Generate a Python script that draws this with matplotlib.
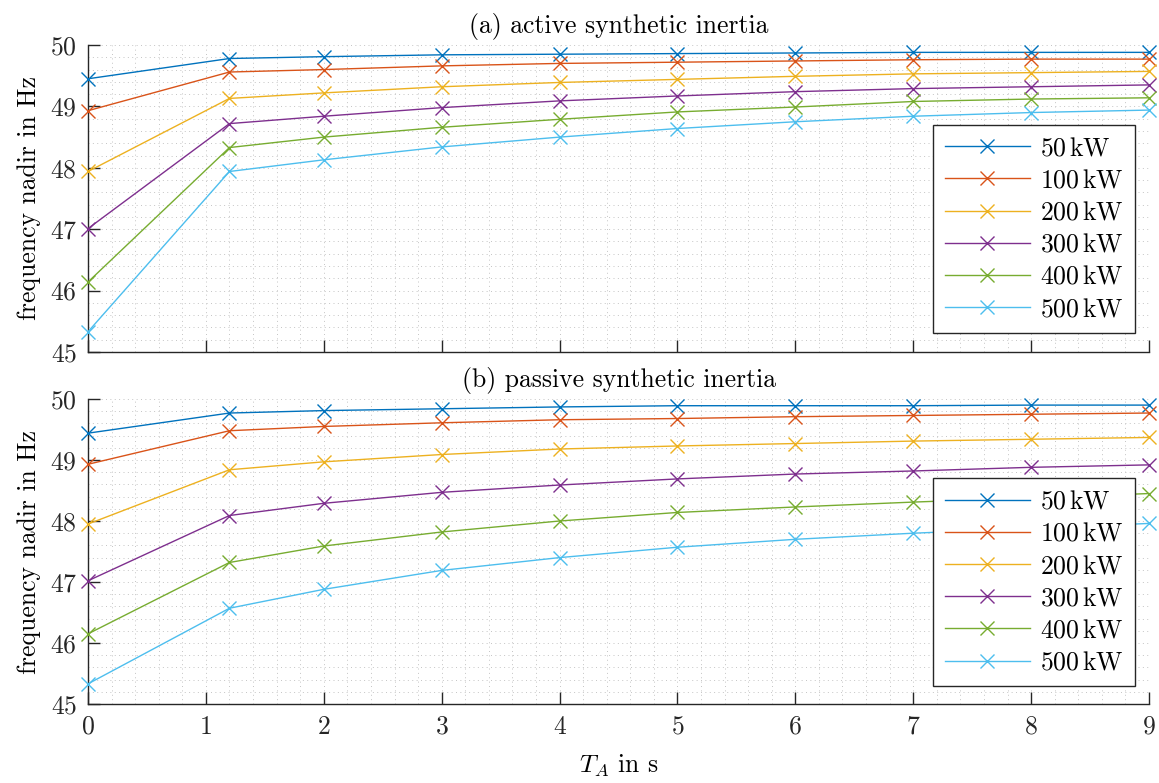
import matplotlib
matplotlib.use("Agg")
import matplotlib.pyplot as plt
from matplotlib.ticker import MultipleLocator

plt.rcParams['font.family'] = 'serif'
plt.rcParams['font.serif'] = ['cmr10', 'DejaVu Serif']
plt.rcParams['mathtext.fontset'] = 'cm'
plt.rcParams['axes.formatter.use_mathtext'] = True
plt.rcParams['axes.unicode_minus'] = False

T_A = [0, 1.2, 2, 3, 4, 5, 6, 7, 8, 9]
labels = ["50$\\,$kW", "100$\\,$kW", "200$\\,$kW", "300$\\,$kW", "400$\\,$kW", "500$\\,$kW"]
colors = ["#0072BD", "#D95319", "#EDB120", "#7E2F8E", "#77AC30", "#4DBEEE"]

active_50 = [49.45, 49.78, 49.81, 49.84, 49.85, 49.86, 49.87, 49.88, 49.88, 49.88]
active_100 = [48.93, 49.56, 49.60, 49.66, 49.70, 49.72, 49.74, 49.76, 49.77, 49.77]
active_200 = [47.94, 49.13, 49.22, 49.32, 49.39, 49.44, 49.49, 49.53, 49.55, 49.57]
active_300 = [47.01, 48.72, 48.84, 48.98, 49.09, 49.17, 49.24, 49.29, 49.32, 49.35]
active_400 = [46.14, 48.33, 48.50, 48.66, 48.79, 48.91, 48.99, 49.08, 49.12, 49.14]
active_500 = [45.33, 47.94, 48.13, 48.34, 48.50, 48.64, 48.75, 48.84, 48.90, 48.94]

passive_50 = [49.44, 49.77, 49.81, 49.84, 49.87, 49.89, 49.89, 49.89, 49.90, 49.90]
passive_100 = [48.93, 49.48, 49.55, 49.61, 49.66, 49.68, 49.71, 49.73, 49.75, 49.77]
passive_200 = [47.95, 48.84, 48.97, 49.09, 49.18, 49.23, 49.27, 49.31, 49.34, 49.37]
passive_300 = [47.02, 48.09, 48.29, 48.47, 48.59, 48.69, 48.77, 48.82, 48.88, 48.92]
passive_400 = [46.15, 47.32, 47.59, 47.82, 48.00, 48.14, 48.23, 48.31, 48.38, 48.45]
passive_500 = [45.33, 46.57, 46.88, 47.19, 47.40, 47.57, 47.70, 47.80, 47.88, 47.96]

active = [active_50, active_100, active_200, active_300, active_400, active_500]
passive = [passive_50, passive_100, passive_200, passive_300, passive_400, passive_500]
titles = ["(a) active synthetic inertia", "(b) passive synthetic inertia"]

W, H = 1159, 783
fig = plt.figure(figsize=(W / 100, H / 100), dpi=100)
left, right = 88 / W, 1149 / W
ax1 = fig.add_axes([left, 1 - 352 / H, right - left, (352 - 45) / H])
ax2 = fig.add_axes([left, 1 - 704 / H, right - left, (704 - 399) / H])

FS = 18.5
for ax, data, title in zip([ax1, ax2], [active, passive], titles):
    for series, lab, c in zip(data, labels, colors):
        ax.plot(T_A, series, color=c, marker='x', markersize=10.5, markeredgewidth=1.0,
                linewidth=1.0, label=lab, clip_on=False, zorder=3)
    ax.set_xlim(0, 9)
    ax.set_ylim(45, 50)
    ax.xaxis.set_major_locator(MultipleLocator(1))
    ax.yaxis.set_major_locator(MultipleLocator(1))
    ax.xaxis.set_minor_locator(MultipleLocator(0.2))
    ax.yaxis.set_minor_locator(MultipleLocator(0.2))
    ax.grid(which='both', color='#c4c4c4', linestyle=(0, (1, 3.5)), linewidth=0.7)
    ax.set_axisbelow(True)
    ax.tick_params(which='major', direction='in', length=8.5, width=1.0, labelsize=FS,
                   colors='#262626', labelcolor='#262626', pad=8)
    ax.tick_params(which='minor', length=0)
    for s in ['top', 'right']:
        ax.spines[s].set_visible(False)
    for s in ['left', 'bottom']:
        ax.spines[s].set_color('#262626')
        ax.spines[s].set_linewidth(1.0)
    ax.set_title(title, fontsize=FS, pad=9)
    ax.set_ylabel("frequency nadir in Hz", fontsize=FS, labelpad=6)
    leg = ax.legend(loc='upper right', bbox_to_anchor=(0.987, 0.74), borderaxespad=0,
                    fontsize=FS, handlelength=3.3, fancybox=False, framealpha=1,
                    edgecolor='#262626', labelspacing=0.33, borderpad=0.45,
                    handletextpad=0.4)
    leg.get_frame().set_linewidth(1.0)

ax1.tick_params(labelbottom=False)
ax2.set_xlabel("$T_A$ in s", fontsize=FS, labelpad=10)

fig.savefig("out.png", dpi=100)
